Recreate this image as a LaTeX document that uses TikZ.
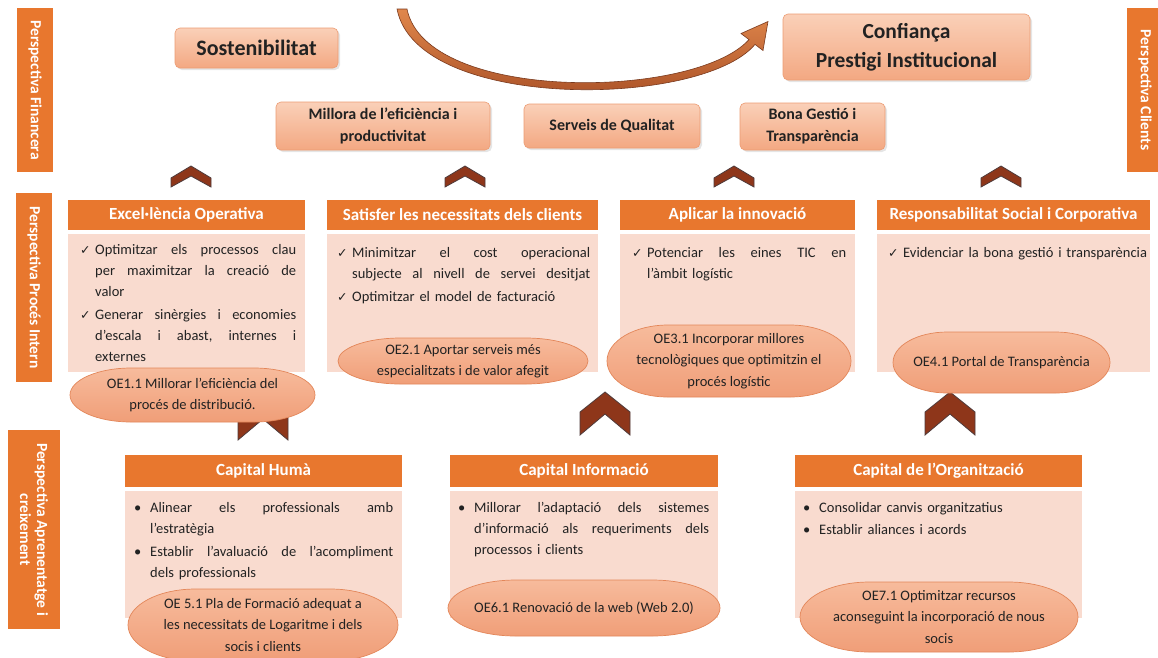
\documentclass[tikz,border=0pt]{standalone}
\usepackage{fontspec}
\setmainfont{Carlito}
\newfontfamily\symf{DejaVu Sans}
\usetikzlibrary{shadows}
\definecolor{hdr}{HTML}{E8772E}
\definecolor{pinkbody}{HTML}{F9DBCF}
\definecolor{ovaltop}{HTML}{F7BB9C}
\definecolor{ovalbot}{HTML}{F09E78}
\definecolor{ovalline}{HTML}{E38659}
\definecolor{topA}{HTML}{FAD0B8}
\definecolor{topB}{HTML}{F3A882}
\definecolor{topD}{HTML}{EC9C74}
\definecolor{chevfill}{HTML}{8E361A}
\definecolor{chevline}{HTML}{4F3B3B}
\definecolor{arrA}{HTML}{E0874C}
\definecolor{arrB}{HTML}{A34A22}
\definecolor{arrD}{HTML}{7A3A1E}
\definecolor{txt}{HTML}{222222}
\newcommand\fsz[2]{\fontsize{#1}{#2}\selectfont}
\newcommand\jl[1]{\makebox[\linewidth][s]{\frenchspacing\spaceskip=0.226em plus 1fil\relax#1}}
\newcommand\chk[1]{\makebox[15pt][l]{\symf\fsz{12.5}{12}✓}\parbox[t]{\dimexpr\hsize-15pt\relax}{\hyphenpenalty=10000\strut#1\strut}}
\newcommand\bul[1]{\makebox[17pt][l]{\hspace{1pt}\textbullet}\parbox[t]{\dimexpr\hsize-17pt\relax}{\hyphenpenalty=10000\strut#1\strut}}
\newcommand\itemgap{\par\vskip1.5pt\noindent}
\newcommand\chevshape[6]{\path[chevsty] ({#1-#3},{#2+#4}) -- (#1,#2) -- ({#1+#3},{#2+#4}) -- ({#1+#3},{#2+#5}) -- (#1,{#2+#6}) -- ({#1-#3},{#2+#5}) -- cycle;}
\newcommand\ovalnode[6]{%
 \pgfmathsetmacro\oxl{#2-#4/2}\pgfmathsetmacro\oxr{#2+#4/2}%
 \pgfmathsetmacro\orx{0.25*#4}\pgfmathsetmacro\ory{#5/2}%
 \pgfmathsetmacro\oel{#2-0.25*#4}\pgfmathsetmacro\oer{#2+0.25*#4}%
 \pgfmathsetmacro\oyt{#3-#5/2}\pgfmathsetmacro\oyb{#3+#5/2}%
 \pgfmathsetmacro\okx{0.5523*\orx}\pgfmathsetmacro\oky{0.5523*\ory}%
 \path[ovalsh] (\oel,\oyt) -- (\oer,\oyt) .. controls ({\oer+\okx},\oyt) and (\oxr,{#3-\oky}) .. (\oxr,#3) .. controls (\oxr,{#3+\oky}) and ({\oer+\okx},\oyb) .. (\oer,\oyb) -- (\oel,\oyb) .. controls ({\oel-\okx},\oyb) and (\oxl,{#3+\oky}) .. (\oxl,#3) .. controls (\oxl,{#3-\oky}) and ({\oel-\okx},\oyt) .. (\oel,\oyt) -- cycle;
 \node[ovaltext] (#1) at (#2,#3) {#6};}
\begin{document}
\begin{tikzpicture}[x=1pt,y=-1pt,
 side/.style={fill=hdr, text=white, font=\bfseries\fsz{15.5}{17}, rotate=-90, inner sep=0pt, align=center},
 hdrbox/.style={fill=hdr, text=white, font=\bfseries\fsz{17}{20}, minimum height=30pt, inner sep=0pt},
 body/.style={fill=pinkbody, inner sep=0pt},
 btext/.style={anchor=base west, inner sep=0pt, font=\fsz{14.5}{21}, text=txt},
 topbox/.style={rounded corners=5pt, top color=topA, bottom color=topB, draw=topD, line width=.6pt,
   font=\bfseries\fsz{16}{22}, text=txt, align=center, inner sep=0pt,
   drop shadow={opacity=0.2, shadow xshift=2pt, shadow yshift=-2pt}},
 ovalsh/.style={top color=ovaltop, bottom color=ovalbot, draw=ovalline, line width=.7pt},
 ovaltext/.style={font=\fsz{14.5}{21.5}, align=center, text=txt, inner sep=0pt},
 chevsty/.style={fill=chevfill, draw=chevline, line width=.8pt, line join=miter},
 arrowsty/.style={top color=arrA, bottom color=arrB, draw=arrD, line width=.6pt}]
\useasboundingbox (0,0) rectangle (1158,657);
\fill[white] (0,0) rectangle (1158,657);

% side bars
\node[side, minimum width=164pt, minimum height=36pt] (pfin) at (35,90) {Perspectiva Financera};
\node[side, minimum width=189pt, minimum height=36pt] (pint) at (34,287.5) {Perspectiva Procés Intern};
\node[side, minimum width=199pt, minimum height=52pt] (papr) at (34,529.5) {Perspectiva Aprenentatge i\\creixement};
\node[side, minimum width=164pt, minimum height=36pt] (pcli) at (1145,90) {Perspectiva Clients};

% top boxes
\node[topbox, font=\bfseries\fsz{22}{26}, minimum width=163pt, minimum height=40pt] (sost) at (256.5,48) {Sostenibilitat};
\node[topbox, font=\bfseries\fsz{21.5}{29}, minimum width=247pt, minimum height=66pt] (conf) at (906.5,47) {Confiança\\Prestigi Institucional};
\node[topbox, minimum width=214pt, minimum height=48pt] (mill) at (383,126) {Millora de l’eficiència i\\productivitat};
\node[topbox, minimum width=176pt, minimum height=44pt] (serv) at (612,126) {Serveis de Qualitat};
\node[topbox, minimum width=145pt, minimum height=47pt] (bona) at (812.5,126.5) {Bona Gestió i\\Transparència};

% curved arrow
\path[arrowsty] (397,9) .. controls (417,112) and (702,108) .. (755,44.4) -- (763,50.5) -- (768,21.5) -- (741,33.5) -- (749,39.6) .. controls (694,100) and (426,103) .. (407,9) -- cycle;

% top chevrons
\chevshape{191}{166}{20}{12}{21}{10}
\chevshape{465}{166}{20}{12}{21}{10}
\chevshape{734}{166}{20}{12}{21}{10}
\chevshape{1001}{166}{20}{12}{21}{10}

% middle headers and bodies
\node[hdrbox, minimum width=237pt] (h1) at (186.5,215) {Excel·lència Operativa};
\node[hdrbox, minimum width=271pt] (h2) at (462.5,215) {Satisfer les necessitats dels clients};
\node[hdrbox, minimum width=235pt] (h3) at (737.5,215) {Aplicar la innovació};
\node[hdrbox, minimum width=273pt] (h4) at (1013.5,215) {Responsabilitat Social i Corporativa};
\node[body, minimum width=237pt, minimum height=138pt] (b1) at (186.5,303) {};
\node[body, minimum width=271pt, minimum height=138pt] (b2) at (462.5,303) {};
\node[body, minimum width=235pt, minimum height=138pt] (b3) at (737.5,303) {};
\node[body, minimum width=273pt, minimum height=138pt] (b4) at (1013.5,303) {};

\node[btext, text width=216pt] (t1) at (80,254) {\noindent\chk{\jl{Optimitzar els processos clau}\\\jl{per maximitzar la creació de}\\valor}\itemgap
\chk{\jl{Generar sinèrgies i economies}\\\jl{d’escala i abast, internes i}\\externes}};
\node[btext, text width=253pt] (t2) at (337,257) {\noindent\chk{\jl{Minimitzar el cost operacional}\\\jl{subjecte al nivell de servei desitjat}}\itemgap
\chk{Optimitzar el model de facturació}};
\node[btext, text width=214pt] (t3) at (632,257) {\noindent\chk{\jl{Potenciar les eines TIC en}\\l’àmbit logístic}};
\node[btext, text width=264pt] (t4) at (888,257) {\noindent\chk{Evidenciar la bona gestió i transparència}};

% lower chevrons
\chevshape{263}{397}{25}{20}{43}{22}
\chevshape{605}{392}{25}{20}{43}{22}
\chevshape{950}{392}{25}{20}{43}{22}

% middle ovals
\ovalnode{oe1}{192.5}{395}{245}{54}{OE1.1 Millorar l’eficiència del\\procés de distribució.}
\ovalnode{oe2}{463}{361}{250}{46}{OE2.1 Aportar serveis més\\especialitzats i de valor afegit}
\ovalnode{oe3}{729}{361}{244}{72}{OE3.1 Incorporar millores\\tecnològiques que optimitzin el\\procés logístic}
\ovalnode{oe4}{1001.5}{362.5}{217}{61}{OE4.1 Portal de Transparència}

% bottom headers and bodies
\node[hdrbox, minimum width=277pt, minimum height=32pt] (h5) at (263.5,471) {Capital Humà};
\node[hdrbox, minimum width=268pt, minimum height=32pt] (h6) at (584,471) {Capital Informació};
\node[hdrbox, minimum width=287pt, minimum height=32pt] (h7) at (938.5,471) {Capital de l’Organització};
\node[body, minimum width=277pt, minimum height=127pt] (b5) at (263.5,554.5) {};
\node[body, minimum width=268pt, minimum height=127pt] (b6) at (584,554.5) {};
\node[body, minimum width=287pt, minimum height=127pt] (b7) at (938.5,554.5) {};

\node[btext, text width=260pt] (t5) at (133,512) {\noindent\bul{\jl{Alinear els professionals amb}\\l’estratègia}\itemgap
\bul{\jl{Establir l’avaluació de l’acompliment}\\dels professionals}};
\node[btext, text width=252pt] (t6) at (457,512) {\noindent\bul{\jl{Millorar l’adaptació dels sistemes}\\\jl{d’informació als requeriments dels}\\processos i clients}};
\node[btext, text width=268pt] (t7) at (802,512) {\noindent\bul{Consolidar canvis organitzatius}\itemgap
\bul{Establir aliances i acords}};

% bottom ovals
\ovalnode{oe5}{263}{625}{270}{72}{OE 5.1 Pla de Formació adequat a\\les necessitats de Logaritme i dels\\socis i clients}
\ovalnode{oe6}{584}{608}{272}{56}{OE6.1 Renovació de la web (Web 2.0)}
\ovalnode{oe7}{939}{617}{278}{70}{OE7.1 Optimitzar recursos\\aconseguint la incorporació de nous\\socis}
\end{tikzpicture}
\end{document}
